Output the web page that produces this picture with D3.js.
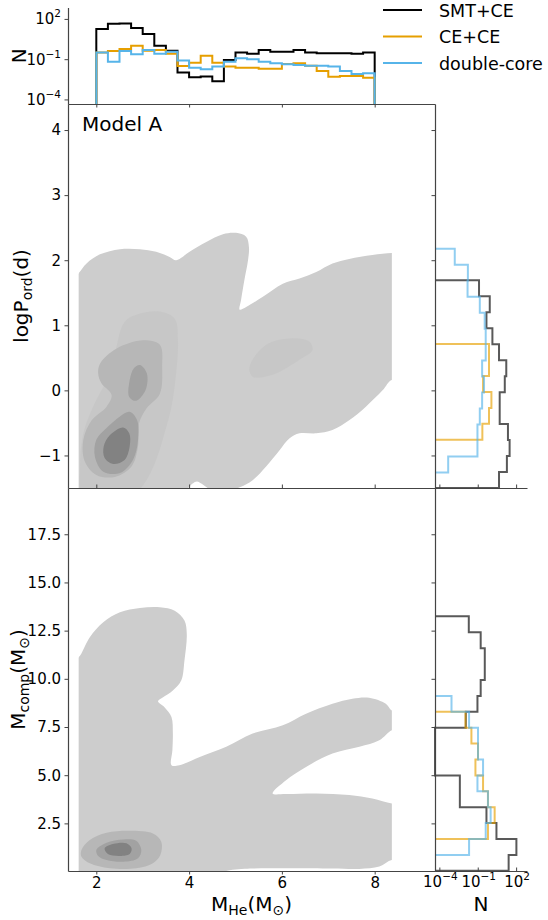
<!DOCTYPE html>
<html>
<head>
<meta charset="utf-8">
<script src="https://cdn.jsdelivr.net/npm/d3@7"></script>
<style>
  body { margin: 0; background: #fff; }
  svg { display: block; font-family: "DejaVu Sans", sans-serif; }
</style>
</head>
<body>
<svg id="chart"></svg>
<script>
// constants
const WIDTH = 548;
const HEIGHT = 920;

// panel edges (pixels)
const LEFT = 68, MID = 435, RIGHT = 527;
const HIST_TOP = 7.5, TOP = 104, SPLIT = 488, BOTTOM = 871;

// series
const names = ['SMT+CE', 'CE+CE', 'double-core'];
const colors = ['#000000', '#E69F00', '#56B4E9'];

// ticks
const xTicks = [2, 4, 6, 8];
const logpTicks = [-1, 0, 1, 2, 3, 4];
const mcompTicks = [2.5, 5, 7.5, 10, 12.5, 15, 17.5];
const nTicks = [1e-4, 1e-1, 1e2];
const nTickLabels = ['\u22124', '\u22121', '2'];

// top histogram: M_He, 24 bins of 0.25 from 2 to 8
const mheStart = 2.0;
const mheWidth = 0.25;
const mheSMT = [17.8, 42.7, 44.7, 21.4, 7.6, 0.98, 0.43, 0.010, 0.0045, 0.0052, 0.0023, 0.087,
                0.32, 0.25, 0.49, 0.36, 0.36, 0.49, 0.31, 0.28, 0.28, 0.28, 0.25, 0.32];
const mheCECE = [0.32, 0.41, 0.58, 0.98, 0.43, 0.49, 0.25, 0.031, 0.055, 0.18, 0.055, 0.028,
                 0.023, 0.023, 0.019, 0.019, 0.044, 0.049, 0.032, 0.013, 0.0049, 0.0056, 0.0056, 0.0042];
const mheDouble = [0.32, 0.065, 0.41, 0.23, 0.49, 0.25, 0.36, 0.078, 0.023, 0.018, 0.028, 0.065,
                   0.115, 0.10, 0.065, 0.049, 0.042, 0.037, 0.032, 0.032, 0.028, 0.013, 0.0079, 0.0089];

// right histogram: logP
const logpWidth = 0.2454;
const logpSMTStart = -1.5;
const logpSMT = [4.6, 19, 31, 23, 5.2, 5.2, 13, 17, 4.6, 1.4, 0.48, 0.87, 0.126];
const logpCECEStart = -0.76;
const logpCECE = [0.23, 0.76, 1.17, 0.26, 0.76, 0.76];
const logpDoubleStart = -1.26;
const logpDouble = [0.00049, 0.095, 0.095, 0.145, 0.22, 0.31, 0.22, 0.42, 0.42, 0.35, 0.145, 0.016, 0.017, 0.0016];

// right histogram: Mcomp
const mcompWidth = 0.825;
const mcompSMTStart = 0.04;
const mcompSMT = [26, 105, 2.9, 0.48, 0.004, 0.004, 0, 0, 0, 0.0117, 0.095, 0.17, 0.355, 0.355, 0.17, 0.020];
const mcompCECEStart = 1.69;
const mcompCECE = [0.63, 2.1, 0.63, 0.26, 0.066, 0.105, 0.032, 0.011];
const mcompDoubleStart = 0.865;
const mcompDouble = [0.021, 0.42, 1.02, 0.63, 0.095, 0.26, 0.105, 0.105, 0.021, 0.00089];

// kde support (data range of M_He)
const kdeMin = 1.62, kdeMax = 8.37;

// density contours, [M_He, logP]
const logpLevel1 = [[1.5,-1.8],[1.5,1.7],[1.62,1.80],[1.79,1.95],[2.08,2.09],[2.51,2.17],[2.94,2.17],[3.29,2.13],
  [3.58,2.05],[3.72,2.00],[4.01,2.13],[4.37,2.28],[4.73,2.40],[5.01,2.42],[5.23,2.36],[5.29,2.20],[5.27,2.00],
  [5.19,1.69],[5.12,1.39],[5.09,1.24],[5.23,1.28],[5.59,1.44],[6.02,1.64],[6.38,1.72],[6.74,1.82],[7.09,1.95],
  [7.45,2.02],[7.95,2.08],[8.37,2.11],[8.6,2.12],[8.6,0.1],[8.37,0.16],[8.17,0.0],[7.81,-0.25],[7.45,-0.46],
  [7.09,-0.61],[6.74,-0.66],[6.38,-0.66],[6.16,-0.74],[5.95,-0.92],[5.66,-1.17],[5.37,-1.38],[5.09,-1.49],
  [4.8,-1.56],[4.55,-1.55],[4.4,-1.5],[4.28,-1.44],[4.17,-1.40],[4.06,-1.44],[3.95,-1.53],[3.8,-1.65],[3.5,-1.8]];
const logpLevel2 = [[2.61,1.05],[2.94,1.18],[3.37,1.21],[3.69,1.10],[3.76,0.77],[3.72,0.26],[3.62,-0.25],
  [3.47,-0.66],[3.29,-1.07],[3.08,-1.38],[2.79,-1.6],[1.72,-1.6],[1.65,-1.17],[1.72,-0.66],[1.93,-0.25],
  [2.22,0.16],[2.40,0.57]];
const logpLevel2b = [[5.66,0.70],[6.23,0.80],[6.59,0.75],[6.66,0.62],[6.38,0.47],[5.80,0.24],[5.37,0.21],[5.30,0.36]];
const logpLevel3 = [[2.08,0.41],[2.43,0.64],[3.01,0.77],[3.37,0.70],[3.42,0.36],[3.37,-0.05],[3.08,-0.28],
  [2.92,-0.51],[2.90,-0.86],[2.76,-1.17],[2.40,-1.33],[2.00,-1.30],[1.75,-1.09],[1.72,-0.76],[1.90,-0.46],
  [2.22,-0.25],[2.33,-0.07],[2.11,0.11],[2.04,0.26]];
const logpLevel4a = [[2.94,0.39],[3.09,0.26],[3.06,0.0],[2.86,-0.16],[2.71,-0.10],[2.72,0.16],[2.81,0.34]];
const logpLevel4b = [[2.72,-0.33],[2.88,-0.46],[2.90,-0.76],[2.79,-1.07],[2.51,-1.27],[2.15,-1.25],[1.97,-1.02],
  [2.00,-0.76],[2.22,-0.58],[2.51,-0.40]];
const logpLevel5 = [[2.58,-0.57],[2.71,-0.66],[2.72,-0.86],[2.61,-1.07],[2.36,-1.13],[2.18,-1.04],[2.16,-0.86],[2.29,-0.69]];

// density contours, [M_He, Mcomp]
const mcompLevel1 = [[1.5,-0.5],[1.5,11.0],[1.62,11.12],[1.86,12.16],[2.15,12.93],[2.51,13.45],[2.94,13.67],
  [3.37,13.71],[3.69,13.53],[3.90,13.02],[3.95,12.33],[3.90,10.95],[3.83,9.91],[3.65,9.40],[3.44,9.05],
  [3.33,8.84],[3.47,8.53],[3.62,8.02],[3.65,7.16],[3.64,6.29],[3.62,5.52],[3.79,5.52],[4.23,5.95],[4.80,6.47],
  [5.37,7.16],[6.02,7.59],[6.52,8.19],[7.09,8.71],[7.52,8.97],[7.88,9.02],[8.24,8.71],[8.37,8.36],[8.6,8.3],
  [8.6,7.4],[8.37,7.33],[8.10,6.81],[7.67,6.47],[7.09,6.12],[6.52,5.43],[6.09,4.74],[5.80,4.05],[6.09,4.02],
  [6.74,4.05],[7.45,3.97],[7.95,3.79],[8.37,3.53],[8.6,3.5],[8.6,0.5],[8.37,0.60],[8.10,0.26],[7.67,0.14],
  [7.09,0.16],[6.0,0.17],[5.2,0.15],[4.94,0.09],[4.58,-0.09],[4.0,-0.5]];
const mcompLevel3 = [[1.68,1.12],[1.86,1.64],[2.22,2.01],[2.72,2.12],[3.22,1.98],[3.40,1.55],[3.38,0.86],
  [3.22,0.43],[2.86,0.17],[2.29,0.17],[1.86,0.43],[1.68,0.77]];
const mcompLevel4 = [[2.00,1.12],[2.22,1.50],[2.58,1.67],[2.86,1.60],[2.97,1.12],[2.90,0.69],[2.58,0.51],
  [2.22,0.60],[2.04,0.81]];
const mcompLevel5 = [[2.18,1.21],[2.36,1.43],[2.65,1.47],[2.76,1.21],[2.72,0.91],[2.51,0.81],[2.25,0.91]];

const levelColors = ['#cdcdcd', '#c7c7c7', '#b7b7b7', '#a2a2a2', '#828282'];

//svg
const svg = d3.select('#chart')
    .attr('width', WIDTH)
    .attr('height', HEIGHT);

// scales
const x = d3.scaleLinear().domain([1.39, 9.3]).range([LEFT, MID]);
const yLogp = d3.scaleLinear().domain([-1.5, 4.4]).range([SPLIT, TOP]);
const yMcomp = d3.scaleLinear().domain([0.03, 19.9]).range([BOTTOM, SPLIT]);
const yN = d3.scaleLog().domain([10 ** -4.34, 10 ** 2.85]).range([TOP, HIST_TOP]).clamp(true);
const xN = d3.scaleLog().domain([10 ** -4.34, 10 ** 2.85]).range([MID, RIGHT]).clamp(true);

// clip paths for the kde fills
const defs = svg.append('defs');
defs.append('clipPath').attr('id', 'clip-logp')
    .append('rect')
    .attr('x', x(kdeMin)).attr('y', TOP)
    .attr('width', x(kdeMax) - x(kdeMin)).attr('height', SPLIT - TOP);
defs.append('clipPath').attr('id', 'clip-mcomp')
    .append('rect')
    .attr('x', x(kdeMin)).attr('y', SPLIT)
    .attr('width', x(kdeMax) - x(kdeMin)).attr('height', BOTTOM - SPLIT);

// kde contours
function drawLevels(clipId, yScale, levels) {
    const line = d3.line()
        .x(d => x(d[0]))
        .y(d => yScale(d[1]))
        .curve(d3.curveCatmullRomClosed.alpha(0.5));
    svg.append('g')
        .attr('clip-path', `url(#${clipId})`)
        .selectAll('path')
        .data(levels).join('path')
        .attr('d', d => line(d.pts))
        .attr('fill', d => levelColors[d.level]);
}

drawLevels('clip-logp', yLogp, [
    {pts: logpLevel1, level: 0},
    {pts: logpLevel2, level: 1},
    {pts: logpLevel2b, level: 1},
    {pts: logpLevel3, level: 2},
    {pts: logpLevel4a, level: 3},
    {pts: logpLevel4b, level: 3},
    {pts: logpLevel5, level: 4}
]);

drawLevels('clip-mcomp', yMcomp, [
    {pts: mcompLevel1, level: 0},
    {pts: mcompLevel3, level: 2},
    {pts: mcompLevel4, level: 3},
    {pts: mcompLevel5, level: 4}
]);

// step histograms
function vStep(values, start, width) {
    const pts = [[x(start), TOP]];
    values.forEach((v, i) => {
        const yy = v > 0 ? yN(v) : TOP;
        pts.push([x(start + i * width), yy], [x(start + (i + 1) * width), yy]);
    });
    pts.push([x(start + values.length * width), TOP]);
    return d3.line()(pts);
}

function hStep(values, start, width, yScale) {
    const pts = [[MID, yScale(start)]];
    values.forEach((v, i) => {
        const xx = v > 0 ? xN(v) : MID;
        pts.push([xx, yScale(start + i * width)], [xx, yScale(start + (i + 1) * width)]);
    });
    pts.push([MID, yScale(start + values.length * width)]);
    return d3.line()(pts);
}

const topHist = [
    vStep(mheSMT, mheStart, mheWidth),
    vStep(mheCECE, mheStart, mheWidth),
    vStep(mheDouble, mheStart, mheWidth)
];
svg.append('g').selectAll('path')
    .data(topHist).join('path')
    .attr('d', d => d)
    .attr('fill', 'none')
    .attr('stroke', (d, i) => colors[i])
    .attr('stroke-width', 2);

const logpHist = [
    hStep(logpSMT, logpSMTStart, logpWidth, yLogp),
    hStep(logpCECE, logpCECEStart, logpWidth, yLogp),
    hStep(logpDouble, logpDoubleStart, logpWidth, yLogp)
];
const mcompHist = [
    hStep(mcompSMT, mcompSMTStart, mcompWidth, yMcomp),
    hStep(mcompCECE, mcompCECEStart, mcompWidth, yMcomp),
    hStep(mcompDouble, mcompDoubleStart, mcompWidth, yMcomp)
];
[logpHist, mcompHist].forEach(hist => {
    svg.append('g').selectAll('path')
        .data(hist).join('path')
        .attr('d', d => d)
        .attr('fill', 'none')
        .attr('stroke', (d, i) => colors[i])
        .attr('stroke-opacity', 0.65)
        .attr('stroke-width', 2);
});

// axes
const AXIS = '#444';
function styleAxis(g) {
    g.attr('font-size', 15)
        .attr('font-family', '"DejaVu Sans", sans-serif');
    g.select('.domain').attr('stroke', AXIS).attr('stroke-width', 1.2);
    g.selectAll('.tick line').attr('stroke', AXIS).attr('stroke-width', 1);
    g.selectAll('.tick text').attr('fill', '#000');
}

// top histogram axes
svg.append('g')
    .attr('transform', `translate(0,${TOP})`)
    .call(d3.axisBottom(x).tickValues(xTicks).tickFormat('').tickSize(3.5).tickSizeOuter(0))
    .call(styleAxis);
svg.append('g')
    .attr('transform', `translate(${LEFT},0)`)
    .call(d3.axisLeft(yN).tickValues(nTicks).tickFormat('').tickSize(3.5).tickSizeOuter(0))
    .call(styleAxis);

// main panels
svg.append('g')
    .attr('transform', `translate(${LEFT},0)`)
    .call(d3.axisLeft(yLogp).tickValues(logpTicks).tickSize(3.5).tickPadding(3.5).tickSizeOuter(0)
        .tickFormat(d => d < 0 ? '\u2212' + Math.abs(d) : d))
    .call(styleAxis);
svg.append('g')
    .attr('transform', `translate(0,${SPLIT})`)
    .call(d3.axisBottom(x).tickValues(xTicks).tickFormat('').tickSize(-3.5).tickSizeOuter(0))
    .call(styleAxis);
svg.append('g')
    .attr('transform', `translate(${LEFT},0)`)
    .call(d3.axisLeft(yMcomp).tickValues(mcompTicks).tickSize(3.5).tickPadding(3.5).tickSizeOuter(0)
        .tickFormat(d3.format('.1f')))
    .call(styleAxis);
svg.append('g')
    .attr('transform', `translate(0,${BOTTOM})`)
    .call(d3.axisBottom(x).tickValues(xTicks).tickSize(3.5).tickPadding(3).tickSizeOuter(0))
    .call(styleAxis);

// right histogram axes
svg.append('g')
    .attr('transform', `translate(${MID},0)`)
    .call(d3.axisLeft(yLogp).tickValues(logpTicks).tickFormat('').tickSize(3.5).tickSizeOuter(0))
    .call(styleAxis);
svg.append('g')
    .attr('transform', `translate(0,${SPLIT})`)
    .call(d3.axisBottom(xN).tickValues(nTicks).tickFormat('').tickSize(-3.5).tickSizeOuter(0))
    .call(styleAxis);
svg.append('g')
    .attr('transform', `translate(${MID},0)`)
    .call(d3.axisLeft(yMcomp).tickValues(mcompTicks).tickFormat('').tickSize(3.5).tickSizeOuter(0))
    .call(styleAxis);
svg.append('g')
    .attr('transform', `translate(0,${BOTTOM})`)
    .call(d3.axisBottom(xN).tickValues(nTicks).tickFormat('').tickSize(-3.5).tickSizeOuter(0))
    .call(styleAxis);

// power-of-ten tick labels
function powLabel(text, exp) {
    text.append('tspan').text('10');
    text.append('tspan')
        .attr('dy', -7)
        .attr('font-size', 10.5)
        .text(exp);
}

svg.append('g').selectAll('text')
    .data(nTicks).join('text')
    .attr('x', LEFT - 7)
    .attr('y', d => yN(d) + 5.5)
    .attr('text-anchor', 'end')
    .attr('font-size', 15)
    .each(function(d, i) { powLabel(d3.select(this), nTickLabels[i]); });

svg.append('g').selectAll('text')
    .data(nTicks).join('text')
    .attr('x', d => xN(d) + 1)
    .attr('y', BOTTOM + 15.5)
    .attr('text-anchor', 'middle')
    .attr('font-size', 15)
    .each(function(d, i) { powLabel(d3.select(this), nTickLabels[i]); });

// axis labels
const labels = svg.append('g').attr('font-size', 20).attr('fill', '#000');

labels.append('text')
    .attr('transform', `translate(26,${(TOP + HIST_TOP) / 2}) rotate(-90)`)
    .attr('text-anchor', 'middle')
    .text('N');

const logpLabel = labels.append('text')
    .attr('transform', `translate(28,${(TOP + SPLIT) / 2}) rotate(-90)`)
    .attr('text-anchor', 'middle');
logpLabel.append('tspan').text('logP');
logpLabel.append('tspan').attr('font-size', 14).attr('dy', 4).text('ord');
logpLabel.append('tspan').attr('dy', -4).text('(d)');

const mcompLabel = labels.append('text')
    .attr('transform', `translate(25,${(SPLIT + BOTTOM) / 2}) rotate(-90)`)
    .attr('text-anchor', 'middle');
mcompLabel.append('tspan').text('M');
mcompLabel.append('tspan').attr('font-size', 14).attr('dy', 4).text('comp');
mcompLabel.append('tspan').attr('dy', -4).text('(M');
mcompLabel.append('tspan').attr('font-size', 14).attr('dy', 4).text('\u2299');
mcompLabel.append('tspan').attr('dy', -4).text(')');

const mheLabel = labels.append('text')
    .attr('x', (LEFT + MID) / 2)
    .attr('y', 911)
    .attr('text-anchor', 'middle');
mheLabel.append('tspan').text('M');
mheLabel.append('tspan').attr('font-size', 14).attr('dy', 4).text('He');
mheLabel.append('tspan').attr('dy', -4).text('(M');
mheLabel.append('tspan').attr('font-size', 14).attr('dy', 4).text('\u2299');
mheLabel.append('tspan').attr('dy', -4).text(')');

labels.append('text')
    .attr('x', (MID + RIGHT) / 2)
    .attr('y', 911)
    .attr('text-anchor', 'middle')
    .text('N');

labels.append('text')
    .attr('x', 82)
    .attr('y', 131)
    .text('Model A');

// legend
const legend = svg.append('g')
    .attr('transform', 'translate(383,10)');
legend.selectAll('line')
    .data(names).join('line')
    .attr('x1', 0).attr('x2', 39)
    .attr('y1', (d, i) => i * 26.5)
    .attr('y2', (d, i) => i * 26.5)
    .attr('stroke', (d, i) => colors[i])
    .attr('stroke-width', 2);
legend.selectAll('text')
    .data(names).join('text')
    .attr('x', 56)
    .attr('y', (d, i) => i * 26.5 + 6.5)
    .attr('font-size', 17.5)
    .text(d => d);
</script>
</body>
</html>
